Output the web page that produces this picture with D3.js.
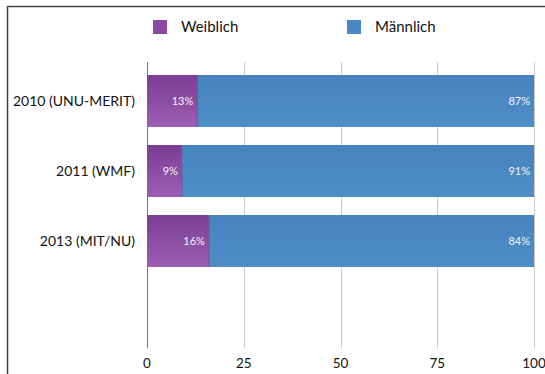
<!DOCTYPE html>
<html>
<head>
<meta charset="utf-8">
<script src="https://cdn.jsdelivr.net/npm/d3@7"></script>
<style>
  body { margin: 0; background: #fff; }
  svg { display: block; font-family: "Lato", "Open Sans", sans-serif; }
  .cat { font-size: 14px; fill: #111; }
  .leg { font-size: 15px; fill: #111; }
  .tick-label { font-size: 13.5px; fill: #111; }
  .pct { font-size: 11px; fill: #f4f4f4; }
</style>
</head>
<body>
<svg id="chart" width="545" height="374"></svg>
<script>
// data
var categories = ["2010 (UNU-MERIT)", "2011 (WMF)", "2013 (MIT/NU)"];
var female = [13, 9, 16];
var male = [87, 91, 84];
var seriesNames = ["Weiblich", "Männlich"];
var ticks = [0, 25, 50, 75, 100];

var svg = d3.select("#chart");

// frame
svg.append("path")
  .attr("d", "M7.5,374 V6.5 H545")
  .attr("fill", "none")
  .attr("stroke", "#444")
  .attr("stroke-width", 1.5);

var defs = svg.append("defs");
var gradF = defs.append("linearGradient")
  .attr("id", "gradF").attr("x1", 0).attr("y1", 0).attr("x2", 0).attr("y2", 1);
gradF.append("stop").attr("offset", "0%").attr("stop-color", "#7a3d92");
gradF.append("stop").attr("offset", "100%").attr("stop-color", "#9c5fb3");

var gradM = defs.append("linearGradient")
  .attr("id", "gradM").attr("x1", 0).attr("y1", 0).attr("x2", 0).attr("y2", 1);
gradM.append("stop").attr("offset", "0%").attr("stop-color", "#4784bf");
gradM.append("stop").attr("offset", "100%").attr("stop-color", "#4f8dc7");

var colors = ["url(#gradF)", "url(#gradM)"];
var legendColors = ["#8a4aa3", "#4a88c3"];

var x = d3.scaleLinear().domain([0, 100]).range([147, 534]);
var y = d3.scaleBand().domain(categories).range([66, 276]).paddingInner(0.257).paddingOuter(0.1285);

var gridTop = 62, gridBottom = 348;

// gridlines
svg.append("g").selectAll("line")
  .data(ticks)
  .enter().append("line")
    .attr("x1", function(d) { return Math.round(x(d)) + 0.5; })
    .attr("x2", function(d) { return Math.round(x(d)) + 0.5; })
    .attr("y1", gridTop)
    .attr("y2", gridBottom)
    .attr("stroke", function(d) { return d === 0 ? "#777" : "#ccc"; })
    .attr("stroke-width", 1);

// tick labels
svg.append("g").selectAll("text")
  .data(ticks)
  .enter().append("text")
    .attr("class", "tick-label")
    .attr("x", function(d) { return x(d); })
    .attr("y", 368)
    .attr("text-anchor", "middle")
    .text(function(d) { return d; });

// stacked bars
var rows = categories.map(function(c, i) {
  return { cat: c, vals: [female[i], male[i]] };
});

var rowG = svg.append("g").selectAll("g")
  .data(rows)
  .enter().append("g");

rowG.each(function(r) {
  var g = d3.select(this);
  var start = 0;
  r.vals.forEach(function(v, j) {
    var x0 = x(start), x1 = x(start + v);
    g.append("rect")
      .attr("x", x0)
      .attr("y", y(r.cat))
      .attr("width", x1 - x0)
      .attr("height", y.bandwidth())
      .attr("fill", colors[j]);
    g.append("text")
      .attr("class", "pct")
      .attr("x", x1 - 4)
      .attr("y", y(r.cat) + y.bandwidth() / 2 + 4)
      .attr("text-anchor", "end")
      .text(v + "%");
    start += v;
  });
  // divider between segments
  g.append("line")
    .attr("x1", x(r.vals[0])).attr("x2", x(r.vals[0]))
    .attr("y1", y(r.cat)).attr("y2", y(r.cat) + y.bandwidth())
    .attr("stroke", "#6a4f90").attr("stroke-width", 1);
});

// category labels
svg.append("g").selectAll("text")
  .data(categories)
  .enter().append("text")
    .attr("class", "cat")
    .attr("x", 135)
    .attr("y", function(d) { return y(d) + y.bandwidth() / 2 + 5; })
    .attr("text-anchor", "end")
    .text(function(d) { return d; });

// legend
var legendX = [153, 347];
var legend = svg.append("g").selectAll("g")
  .data(seriesNames)
  .enter().append("g")
    .attr("transform", function(d, i) { return "translate(" + legendX[i] + ",20)"; });

legend.append("rect")
  .attr("width", 14).attr("height", 14)
  .attr("fill", function(d, i) { return legendColors[i]; });

legend.append("text")
  .attr("class", "leg")
  .attr("x", 28)
  .attr("y", 12)
  .text(function(d) { return d; });
</script>
</body>
</html>
